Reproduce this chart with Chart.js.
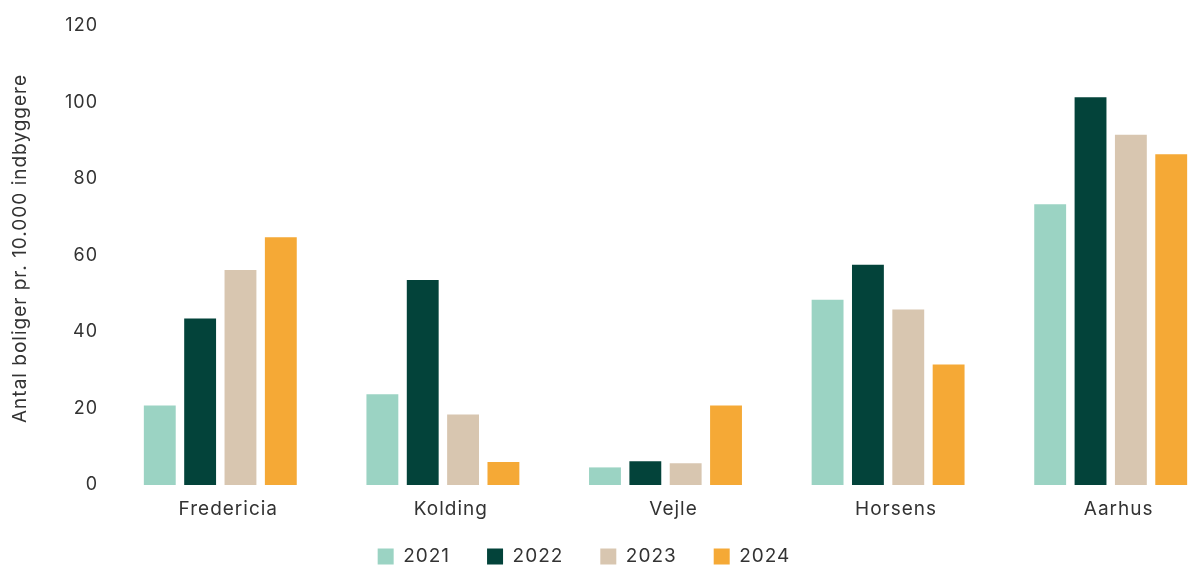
<!DOCTYPE html>
<html>
<head>
<meta charset="utf-8">
<script src="https://cdn.jsdelivr.net/npm/chart.js@4.4.1/dist/chart.umd.min.js"></script>
<style>
  html, body { margin: 0; padding: 0; background: #ffffff; overflow: hidden; width: 1195px; height: 565px; }
  #wrap { position: absolute; left: -54px; top: 0; }
</style>
</head>
<body>
<div id="wrap"><canvas id="c" width="1276" height="576"></canvas></div>
<script>
const categories = ['Fredericia', 'Kolding', 'Vejle', 'Horsens', 'Aarhus'];
const seriesNames = ['2021', '2022', '2023', '2024'];
const values2021 = [20.8, 23.7, 4.6, 48.4, 73.4];
const values2022 = [43.5, 53.6, 6.2, 57.6, 101.4];
const values2023 = [56.2, 18.4, 5.7, 45.9, 91.6];
const values2024 = [64.8, 6.0, 20.8, 31.5, 86.5];
const colors = ['#9BD3C3', '#03433A', '#D8C6B0', '#F5A936'];
const yTicks = [0, 20, 40, 60, 80, 100, 120];
const yTitle = 'Antal boliger pr. 10.000 indbyggere';

const allValues = [values2021, values2022, values2023, values2024];
const FONT = 'Inter, "Noto Sans", sans-serif';
const TEXT = '#333333';

const spacingPlugin = {
  id: 'spacing',
  beforeUpdate(chart) { chart.ctx.letterSpacing = '1px'; },
  beforeDraw(chart) {
    chart.ctx.letterSpacing = '1px';
    const y = chart.scales.y;
    if (y && !y._patched) {
      const orig = Object.getPrototypeOf(y).drawTitle;
      y.drawTitle = function () {
        const ctx = this.ctx;
        ctx.save();
        ctx.translate(0, -7);
        orig.call(this);
        ctx.restore();
      };
      y._patched = true;
    }
    const x = chart.scales.x;
    if (x) { x._computeLabelArea = () => undefined; }
  }
};

new Chart(document.getElementById('c'), {
  type: 'bar',
  plugins: [spacingPlugin],
  data: {
    labels: categories,
    datasets: seriesNames.map((n, i) => ({
      label: n,
      data: allValues[i],
      backgroundColor: colors[i],
      borderWidth: 0,
      categoryPercentage: 0.725,
      barPercentage: 0.79
    }))
  },
  options: {
    responsive: false,
    animation: false,
    devicePixelRatio: 1,
    layout: { padding: { top: 26, right: 0, bottom: 0, left: 0 } },
    plugins: {
      tooltip: { enabled: false },
      legend: {
        position: 'bottom',
        labels: {
          boxWidth: 16,
          boxHeight: 16,
          padding: 37,
          color: TEXT,
          font: { family: FONT, size: 19 }
        }
      }
    },
    scales: {
      x: {
        grid: { display: false, drawTicks: false },
        border: { display: false },
        ticks: {
          color: TEXT,
          font: { family: FONT, size: 19 },
          padding: 13,
          labelOffset: 8,
          maxRotation: 0
        },
        afterFit: (s) => { s.height = 25; }
      },
      y: {
        min: yTicks[0],
        max: yTicks[yTicks.length - 1],
        grid: { display: false, drawTicks: false },
        border: { display: false },
        afterBuildTicks: (s) => { s.ticks = yTicks.map(v => ({ value: v })); },
        ticks: {
          color: TEXT,
          font: { family: FONT, size: 18 },
          padding: 11
        },
        title: {
          display: true,
          text: yTitle,
          color: TEXT,
          font: { family: FONT, size: 19 },
          padding: { top: 63, bottom: 0 }
        },
        afterFit: (s) => { s.width = 163; }
      }
    }
  }
});
</script>
</body>
</html>
